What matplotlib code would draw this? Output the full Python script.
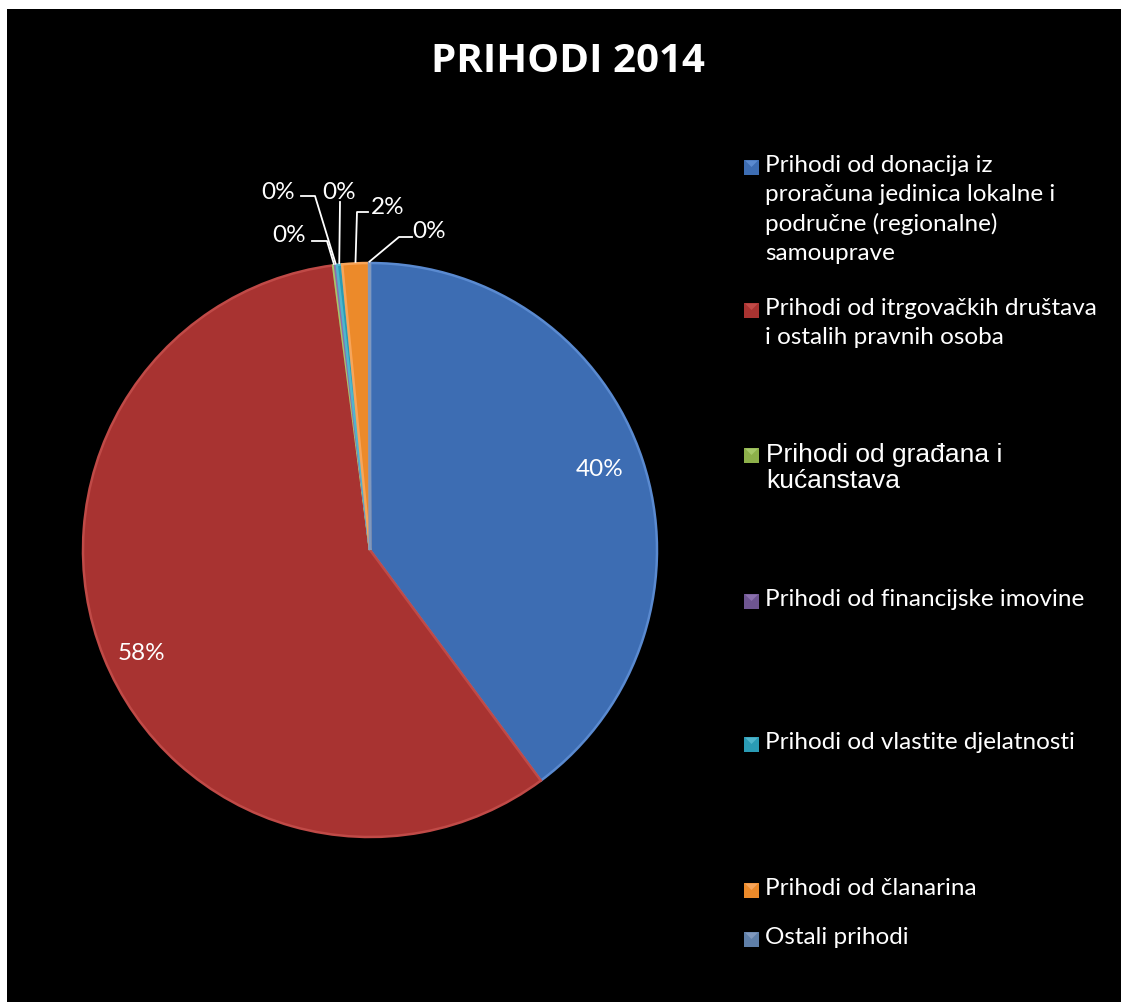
import matplotlib.pyplot as plt
from matplotlib.patches import Rectangle, Polygon
import numpy as np

# Data
categories = [
    "Prihodi od donacija iz\nproračuna jedinica lokalne i\npodručne (regionalne)\nsamouprave",
    "Prihodi od itrgovačkih društava\ni ostalih pravnih osoba",
    "Prihodi od građana i\nkućanstava",
    "Prihodi od financijske imovine",
    "Prihodi od vlastite djelatnosti",
    "Prihodi od članarina",
    "Ostali prihodi",
]
shares = [39.85, 58.1, 0.1, 0.1, 0.3, 1.5, 0.05]
colors = ["#3D6DB3", "#A83331", "#8DB04A", "#6E5591", "#2A9BB5", "#EC8A2A", "#5F7FA8"]
edge_colors = ["#5A8AD0", "#C04A47", "#A6C868", "#8A70AD", "#4FB5CC", "#F7A55A", "#8098BD"]
title = "PRIHODI 2014"

W, H = 1121, 1003
fig = plt.figure(figsize=(W / 100, H / 100), dpi=100)
fig.patch.set_facecolor("white")
fig.patches.append(Rectangle((7 / W, 0), (W - 7) / W, (H - 10) / H,
                             transform=fig.transFigure, facecolor="black",
                             edgecolor="none", zorder=-10))

# pie axes: center (370, 551) px, radius 287 px
cx, cy, r = 370, 551, 287
ax = fig.add_axes([(cx - r) / W, (H - cy - r) / H, 2 * r / W, 2 * r / H])
ax.set_zorder(5)


def px(x, y):
    # pixel position -> pie data coords
    return (x - cx) / r, (cy - y) / r


wedges, _ = ax.pie(shares, colors=colors, startangle=90, counterclock=False,
                   radius=1, wedgeprops=dict(linewidth=0))
for w, ec in zip(wedges, edge_colors):
    w.set_edgecolor(ec)
    w.set_linewidth(1.8)
ax.set_xlim(-1, 1)
ax.set_ylim(-1, 1)
ax.axis("off")

lab_font = dict(family="Lato", size=17.5, color="white")
pct = ["%.0f%%" % s for s in shares]

# big labels inside
ax.text(*px(600, 469), pct[0], ha="center", va="center", **lab_font)
ax.text(*px(141, 654), pct[1], ha="center", va="center", **lab_font)

# small labels with leader lines: (text pos, elbow points)
small = {
    2: ((289, 236), [(312, 242), (327, 242)]),
    3: ((278, 192), [(301, 197), (315, 197)]),
    4: ((339, 192), [(340, 203)]),
    5: ((388, 208), [(368, 213), (357, 213)]),
    6: ((429, 231), [(412, 238), (399, 238)]),
}
for i, (tpos, elbow) in small.items():
    w = wedges[i]
    ang = np.deg2rad((w.theta1 + w.theta2) / 2)
    rim = (np.cos(ang) * 1.005, np.sin(ang) * 1.005)
    pts = [px(*p) for p in elbow] + [rim]
    xs, ys = zip(*pts)
    ax.plot(xs, ys, color="white", lw=1.3, clip_on=False)
    ax.text(*px(*tpos), pct[i], ha="center", va="center", clip_on=False, **lab_font)

# title
fig.text(568 / W, 1 - 61 / H, title, ha="center", va="center",
         family="Open Sans", weight="bold", size=29, color="white")

# legend
legend_y = [168, 311, 456, 602, 745, 891, 940]
for i, (lab, col, y) in enumerate(zip(categories, colors, legend_y)):
    x0, s = 744, 15
    fig.patches.append(Rectangle((x0 / W, 1 - (y + s / 2) / H), s / W, s / H,
                                 transform=fig.transFigure, facecolor=col,
                                 edgecolor="none", zorder=2))
    fig.patches.append(Polygon([((x0 + 1) / W, 1 - (y - s / 2 + 1) / H),
                                ((x0 + s - 1) / W, 1 - (y - s / 2 + 1) / H),
                                ((x0 + s / 2) / W, 1 - y / H)],
                               closed=True, transform=fig.transFigure,
                               facecolor=edge_colors[i], edgecolor="none", zorder=3))
    if i == 2:
        fig.text(766 / W, 1 - (y - 13) / H, lab, ha="left", va="top",
                 family="Liberation Sans", size=19, color="white",
                 linespacing=1.1)
    else:
        fig.text(765 / W, 1 - (y - 13) / H, lab, ha="left", va="top",
                 family="Lato", size=17.5, color="white", linespacing=1.45)

fig.savefig("out.png", dpi=100)
